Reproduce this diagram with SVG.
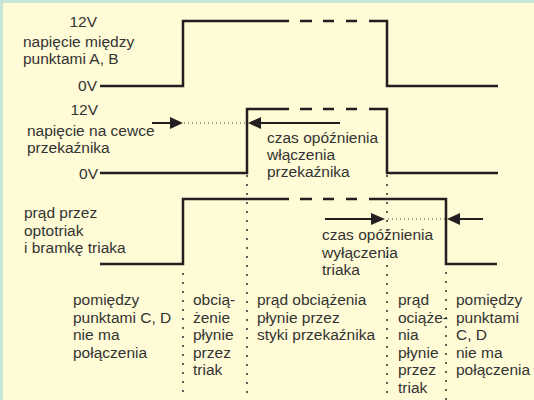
<svg xmlns="http://www.w3.org/2000/svg" width="534" height="400" viewBox="0 0 534 400">
  <style>
    text { font-family: "Liberation Sans", Arial, sans-serif; font-size: 15.5px; fill: #333; }
    .e { text-anchor: end; }
    .tr { fill: none; stroke: #231f20; stroke-width: 2.5; stroke-linejoin: miter; }
    .vd { fill: none; stroke: #2a2a2a; stroke-width: 2; stroke-linecap: round; stroke-dasharray: 0 9; }
    .hd { fill: none; stroke: #444; stroke-width: 1; stroke-dasharray: 1 3; }
    .ar { fill: none; stroke: #231f20; stroke-width: 2; }
    .ah { fill: #231f20; }
  </style>
  <rect x="0" y="0" width="534" height="400" fill="#c6e7d5"/>
  <rect x="3" y="3" width="531" height="397" fill="#fffbd6"/>

  <g id="trace-ab">
    <path class="tr" d="M100,86 H183 V21 H289 M300,21 H312 M323,21 H334 M346,21 H357 M369,21 H387 V86 H498"/>
    <text x="97" y="27" class="e">12V</text>
    <text x="23" y="47">napięcie między</text>
    <text x="23" y="64">punktami A, B</text>
    <text x="97" y="91" class="e">0V</text>
  </g>

  <g id="trace-coil">
    <path class="tr" d="M100,173 H247 V109 H289 M300,109 H312 M323,109 H334 M346,109 H357 M369,109 H387 V173 H498"/>
    <text x="98" y="115" class="e">12V</text>
    <text x="27" y="136">napięcie na cewce</text>
    <text x="27" y="153">przekaźnika</text>
    <text x="98" y="179" class="e">0V</text>
  </g>

  <g id="trace-triac">
    <path class="tr" d="M100,264 H183 V199 H289 M300,199 H312 M323,199 H334 M346,199 H357 M369,199 H446 V264 H497"/>
    <text x="24" y="218">prąd przez</text>
    <text x="24" y="236">optotriak</text>
    <text x="24" y="253">i bramkę triaka</text>
  </g>

  <g id="connectors">
    <path class="vd" d="M183,274 V400"/>
    <path class="vd" d="M247,176 V400"/>
    <path class="vd" d="M387,176 V400"/>
    <path class="vd" d="M446,273 V400"/>
    <path class="hd" d="M184,123 H246"/>
    <path class="hd" d="M388,219 H445"/>
    <path class="ar" d="M152,123 H171"/>
    <polygon class="ah" points="183,123 170,117 170,129"/>
    <path class="ar" d="M259,123 H340"/>
    <polygon class="ah" points="248,123 261,117 261,129"/>
    <path class="ar" d="M325,219 H372"/>
    <polygon class="ah" points="385,219 371,213 371,225"/>
    <path class="ar" d="M458,219 H483"/>
    <polygon class="ah" points="447,219 460,213 460,225"/>
  </g>

  <g id="label-on-delay">
    <text x="267" y="143">czas opóźnienia</text>
    <text x="267" y="160">włączenia</text>
    <text x="267" y="177">przekaźnika</text>
  </g>

  <g id="label-off-delay">
    <text x="322" y="240">czas opóźnienia</text>
    <text x="322" y="257.5">wyłączenia</text>
    <text x="322" y="275">triaka</text>
  </g>

  <g id="col1">
    <text x="73" y="305">pomiędzy</text>
    <text x="73" y="322.5">punktami C, D</text>
    <text x="73" y="340">nie ma</text>
    <text x="73" y="357.5">połączenia</text>
  </g>
  <g id="col2">
    <text x="193" y="305">obcią-</text>
    <text x="193" y="322.5">żenie</text>
    <text x="193" y="340">płynie</text>
    <text x="193" y="357.5">przez</text>
    <text x="193" y="375">triak</text>
  </g>
  <g id="col3">
    <text x="257" y="305">prąd obciążenia</text>
    <text x="257" y="322.5">płynie przez</text>
    <text x="257" y="340">styki przekaźnika</text>
  </g>
  <g id="col4">
    <text x="398" y="305">prąd</text>
    <text x="398" y="322.5">ociąże-</text>
    <text x="398" y="340">nia</text>
    <text x="398" y="357.5">płynie</text>
    <text x="398" y="375">przez</text>
    <text x="398" y="392.5">triak</text>
  </g>
  <g id="col5">
    <text x="456" y="305">pomiędzy</text>
    <text x="456" y="322.5">punktami</text>
    <text x="456" y="340">C, D</text>
    <text x="456" y="357.5">nie ma</text>
    <text x="456" y="375">połączenia</text>
  </g>
</svg>
